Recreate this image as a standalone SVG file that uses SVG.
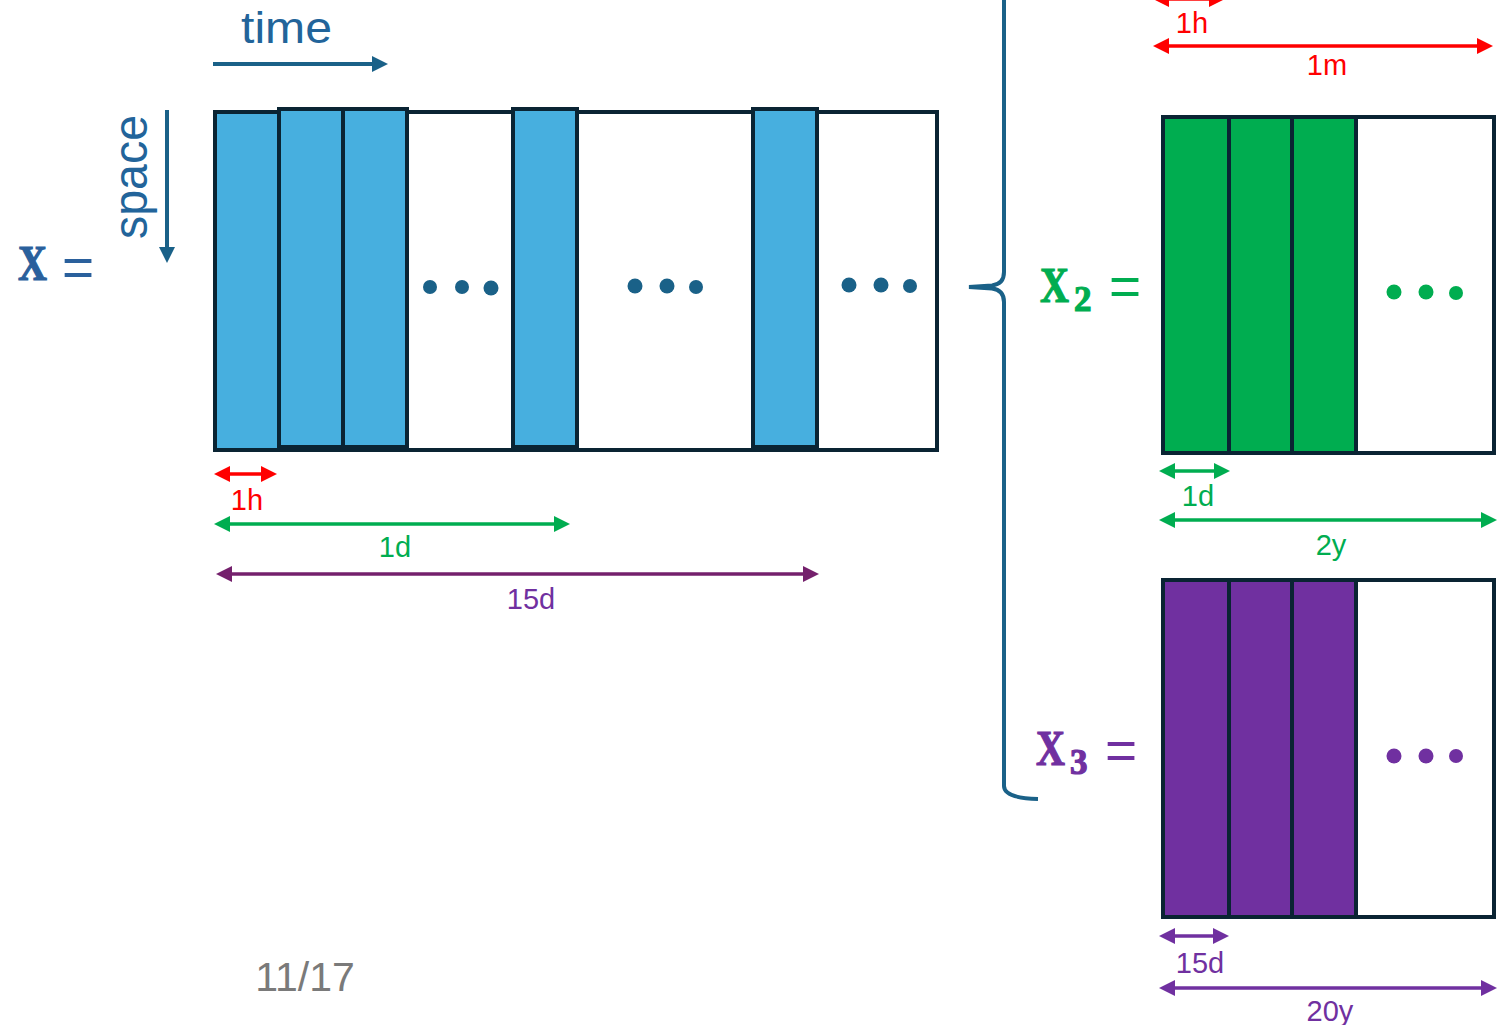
<svg xmlns="http://www.w3.org/2000/svg" width="1506" height="1025" viewBox="0 0 1506 1025">
  <style>
    .frame { stroke: #0a2433; stroke-width: 4; }
    .blue { fill: #47afdf; }
    .green { fill: #00ad50; }
    .purple { fill: #7030a0; }
    .white { fill: #ffffff; }
    .lbl { font-family: "Liberation Sans", Arial, sans-serif; font-size: 29px; text-anchor: middle; }
    .math { font-family: "Liberation Serif", "Times New Roman", serif; font-weight: bold; stroke-width: 1.2; }
    .eq { font-family: "Liberation Sans", Arial, sans-serif; font-size: 55px; }
    .dim { fill: none; stroke-width: 3.5; }
  </style>
  <defs>
    <marker id="hRed" viewBox="0 0 16 16" refX="12" refY="8" markerWidth="16" markerHeight="16" markerUnits="userSpaceOnUse" orient="auto-start-reverse">
      <path d="M0,0 L16,8 L0,16 z" fill="#ff0000"/>
    </marker>
    <marker id="hGreen" viewBox="0 0 16 16" refX="12" refY="8" markerWidth="16" markerHeight="16" markerUnits="userSpaceOnUse" orient="auto-start-reverse">
      <path d="M0,0 L16,8 L0,16 z" fill="#00ad50"/>
    </marker>
    <marker id="hPlum" viewBox="0 0 16 16" refX="12" refY="8" markerWidth="16" markerHeight="16" markerUnits="userSpaceOnUse" orient="auto-start-reverse">
      <path d="M0,0 L16,8 L0,16 z" fill="#74206c"/>
    </marker>
    <marker id="hPurple" viewBox="0 0 16 16" refX="12" refY="8" markerWidth="16" markerHeight="16" markerUnits="userSpaceOnUse" orient="auto-start-reverse">
      <path d="M0,0 L16,8 L0,16 z" fill="#7030a0"/>
    </marker>
    <marker id="hTeal" viewBox="0 0 16 16" refX="12" refY="8" markerWidth="16" markerHeight="16" markerUnits="userSpaceOnUse" orient="auto">
      <path d="M0,0 L16,8 L0,16 z" fill="#1a6188"/>
    </marker>
  </defs>

  <rect width="1506" height="1025" fill="#ffffff"/>

  <!-- axis labels -->
  <g id="axes">
    <text x="241" y="43" font-family="Liberation Sans, Arial, sans-serif" font-size="44" fill="#22649a" textLength="91" lengthAdjust="spacingAndGlyphs">time</text>
    <text transform="translate(147,239) rotate(-90)" font-family="Liberation Sans, Arial, sans-serif" font-size="48" fill="#22649a" textLength="124" lengthAdjust="spacingAndGlyphs">space</text>
  </g>

  <!-- X = full-resolution series -->
  <g id="x-label" fill="#2a609c" stroke="#2a609c">
    <text class="math" x="18" y="280" font-size="50" textLength="29" lengthAdjust="spacingAndGlyphs">X</text>
    <text class="eq" x="62" y="286" stroke="none">=</text>
  </g>
  <g id="x-matrix">
    <rect class="white frame" x="215" y="112" width="722" height="338"/>
    <rect class="blue frame" x="215" y="112" width="64" height="338"/>
    <rect class="blue frame" x="279" y="109" width="64" height="338"/>
    <rect class="blue frame" x="343" y="109" width="64" height="338"/>
    <rect class="blue frame" x="513" y="109" width="64" height="338"/>
    <rect class="blue frame" x="753" y="109" width="64" height="338"/>
    <g fill="#1a6188">
      <circle cx="430" cy="287" r="7"/>
      <circle cx="462" cy="287" r="7"/>
      <circle cx="491" cy="288" r="7.5"/>
      <circle cx="635" cy="286" r="7.5"/>
      <circle cx="667" cy="286" r="7.5"/>
      <circle cx="696" cy="287" r="7"/>
      <circle cx="849" cy="285" r="7.5"/>
      <circle cx="881" cy="285" r="7.5"/>
      <circle cx="910" cy="286" r="7"/>
    </g>
  </g>

  <!-- X2 = daily aggregates -->
  <g id="x2-label" fill="#00ad50" stroke="#00ad50">
    <text class="math" x="1040" y="302" font-size="50" textLength="29" lengthAdjust="spacingAndGlyphs">X</text>
    <text class="math" x="1074" y="311" font-size="35">2</text>
    <text class="eq" x="1109" y="305" stroke="none">=</text>
  </g>
  <g id="x2-matrix">
    <rect class="white frame" x="1163" y="117" width="331" height="336"/>
    <rect class="green frame" x="1163" y="117" width="66" height="336"/>
    <rect class="green frame" x="1229" y="117" width="63" height="336"/>
    <rect class="green frame" x="1292" y="117" width="64" height="336"/>
    <g fill="#00ad50">
      <circle cx="1394" cy="292" r="7.5"/>
      <circle cx="1426" cy="292" r="7.5"/>
      <circle cx="1456" cy="293" r="7"/>
    </g>
  </g>

  <!-- X3 = fortnightly aggregates -->
  <g id="x3-label" fill="#7030a0" stroke="#7030a0">
    <text class="math" x="1036" y="765" font-size="50" textLength="29" lengthAdjust="spacingAndGlyphs">X</text>
    <text class="math" x="1070" y="774" font-size="35">3</text>
    <text class="eq" x="1105" y="769" stroke="none">=</text>
  </g>
  <g id="x3-matrix">
    <rect class="white frame" x="1163" y="580" width="331" height="337"/>
    <rect class="purple frame" x="1163" y="580" width="66" height="337"/>
    <rect class="purple frame" x="1229" y="580" width="63" height="337"/>
    <rect class="purple frame" x="1292" y="580" width="64" height="337"/>
    <g fill="#7030a0">
      <circle cx="1394" cy="756" r="7.5"/>
      <circle cx="1426" cy="756" r="7.5"/>
      <circle cx="1456" cy="756" r="7"/>
    </g>
  </g>

  <!-- brace grouping the aggregated series -->
  <g id="brace">
    <path d="M1004,-5 V272 Q1004,284 992,285.5 L969,287 L992,288.5 Q1004,290 1004,302 V786 Q1004,798 1038,799" fill="none" stroke="#1a6188" stroke-width="4"/>
  </g>

  <!-- dimension labels -->
  <g id="labels">
    <text class="lbl" x="247" y="510" fill="#ff0000">1h</text>
    <text class="lbl" x="395" y="557" fill="#00ad50">1d</text>
    <text class="lbl" x="531" y="609" fill="#7030a0">15d</text>
    <text class="lbl" x="1192" y="33" fill="#ff0000">1h</text>
    <text class="lbl" x="1327" y="75" fill="#ff0000">1m</text>
    <text class="lbl" x="1198" y="506" fill="#00ad50">1d</text>
    <text class="lbl" x="1331" y="555" fill="#00ad50">2y</text>
    <text class="lbl" x="1200" y="973" fill="#7030a0">15d</text>
    <text class="lbl" x="1330" y="1021" fill="#7030a0">20y</text>
  </g>

  <!-- connectors: axis arrows and span markers -->
  <g id="connectors">
    <line x1="213" y1="64" x2="384" y2="64" stroke="#1a6188" stroke-width="4" marker-end="url(#hTeal)"/>
    <line x1="167" y1="110" x2="167" y2="259" stroke="#1a6188" stroke-width="4" marker-end="url(#hTeal)"/>

    <line class="dim" x1="218" y1="474" x2="273" y2="474" stroke="#ff0000" marker-start="url(#hRed)" marker-end="url(#hRed)"/>
    <line class="dim" x1="218" y1="524" x2="566" y2="524" stroke="#00ad50" marker-start="url(#hGreen)" marker-end="url(#hGreen)"/>
    <line class="dim" x1="220" y1="574" x2="815" y2="574" stroke="#74206c" marker-start="url(#hPlum)" marker-end="url(#hPlum)"/>

    <line class="dim" x1="1157" y1="-1" x2="1221" y2="-1" stroke="#ff0000" marker-start="url(#hRed)" marker-end="url(#hRed)"/>
    <line class="dim" x1="1157" y1="46" x2="1489" y2="46" stroke="#ff0000" marker-start="url(#hRed)" marker-end="url(#hRed)"/>
    <line class="dim" x1="1163" y1="471" x2="1226" y2="471" stroke="#00ad50" marker-start="url(#hGreen)" marker-end="url(#hGreen)"/>
    <line class="dim" x1="1163" y1="520" x2="1493" y2="520" stroke="#00ad50" marker-start="url(#hGreen)" marker-end="url(#hGreen)"/>
    <line class="dim" x1="1163" y1="936" x2="1225" y2="936" stroke="#7030a0" marker-start="url(#hPurple)" marker-end="url(#hPurple)"/>
    <line class="dim" x1="1163" y1="988" x2="1493" y2="988" stroke="#7030a0" marker-start="url(#hPurple)" marker-end="url(#hPurple)"/>
  </g>

  <!-- page number -->
  <text x="305" y="991" font-family="Liberation Sans, Arial, sans-serif" font-size="41" fill="#7a7a7a" text-anchor="middle">11/17</text>
</svg>
